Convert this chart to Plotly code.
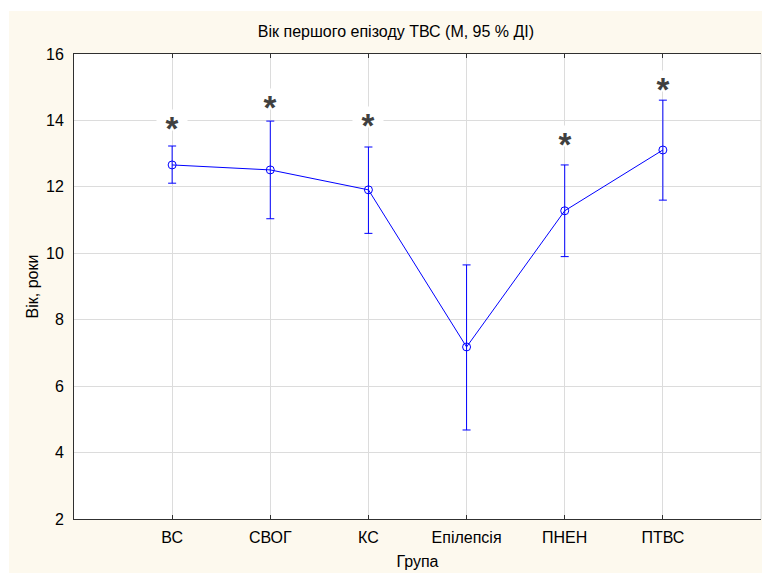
import plotly.graph_objects as go

groups = ["ВС", "СВОГ", "КС", "Епілепсія", "ПНЕН", "ПТВС"]
mean_age = [12.66, 12.51, 11.91, 7.18, 11.28, 13.11]
ci_upper = [13.23, 13.98, 13.20, 9.65, 12.66, 14.61]
ci_lower = [12.11, 11.04, 10.60, 4.68, 9.90, 11.60]
star_y = [13.87, 14.50, 13.94, None, 13.39, 15.05]
y_ticks = [2, 4, 6, 8, 10, 12, 14, 16]

xpos = list(range(1, len(groups) + 1))
err_plus = [u - m for u, m in zip(ci_upper, mean_age)]
err_minus = [m - l for m, l in zip(mean_age, ci_lower)]

BLUE = "#0000ff"
FONT = "Liberation Sans, Arial, sans-serif"
FS = 16

fig = go.Figure()
fig.add_trace(go.Scatter(
    x=xpos, y=mean_age, mode="lines+markers",
    line=dict(color=BLUE, width=1),
    marker=dict(symbol="circle-open", size=8, color=BLUE, line=dict(width=1, color=BLUE)),
    error_y=dict(type="data", symmetric=False, array=err_plus, arrayminus=err_minus,
                 color=BLUE, thickness=1, width=4),
    showlegend=False, hoverinfo="skip",
))

for x, s in zip(xpos, star_y):
    if s is None:
        continue
    fig.add_annotation(x=x, y=s, xref="x", yref="y", text="<b>*</b>", showarrow=False,
                       font=dict(family=FONT, size=33, color="#404040"),
                       bgcolor="white", borderpad=0, width=30, height=20, valign="top",
                       yshift=5)

W, H = 762, 574
L, R, T, B = 74, 1, 54, 55
pw, ph = W - L - R, H - T - B
CREAM = "#fdf9ee"
# white frame around the cream panel
for x0, x1, y0, y1 in [(0, 9, 0, H), (0, W, 0, 11), (0, W, 573, H)]:
    fig.add_shape(type="rect", xref="paper", yref="paper",
                  x0=(x0 - L) / pw, x1=(x1 - L) / pw,
                  y0=(H - B - y1) / ph, y1=(H - B - y0) / ph,
                  fillcolor="white", line=dict(width=0), layer="below")
fig.add_shape(type="line", xref="paper", yref="paper", x0=1, x1=1, y0=0, y1=1,
              line=dict(color="#d8d8d8", width=1), layer="below")

fig.update_layout(
    width=W, height=H,
    margin=dict(l=L, r=R, t=T, b=B),
    paper_bgcolor=CREAM, plot_bgcolor="white",
    font=dict(family=FONT, size=FS, color="black"),
    title=dict(text="Вік першого епізоду ТВС (М, 95 % ДІ)", x=396 / W, xanchor="center",
               y=1 - 31 / H, yanchor="middle", font=dict(size=FS, family=FONT)),
    xaxis=dict(range=[0, 7], tickvals=xpos, ticktext=groups, showgrid=True,
               gridcolor="#dcdcdc", gridwidth=1, zeroline=False,
               showline=True, linecolor="#303030", linewidth=1, mirror="ticks",
               ticks="inside", ticklen=4, tickcolor="#303030", ticklabelstandoff=4,
               title=dict(text="Група", standoff=10, font=dict(size=FS)),
               tickfont=dict(size=FS)),
    yaxis=dict(range=[2, 16], tickvals=y_ticks, showgrid=True,
               gridcolor="#dcdcdc", gridwidth=1, zeroline=False,
               showline=True, linecolor="#303030", linewidth=1,
               ticks="", ticklabelstandoff=6,
               title=dict(text="Вік, роки", standoff=3, font=dict(size=FS)),
               tickfont=dict(size=FS)),
)

fig.write_html("out.html")
